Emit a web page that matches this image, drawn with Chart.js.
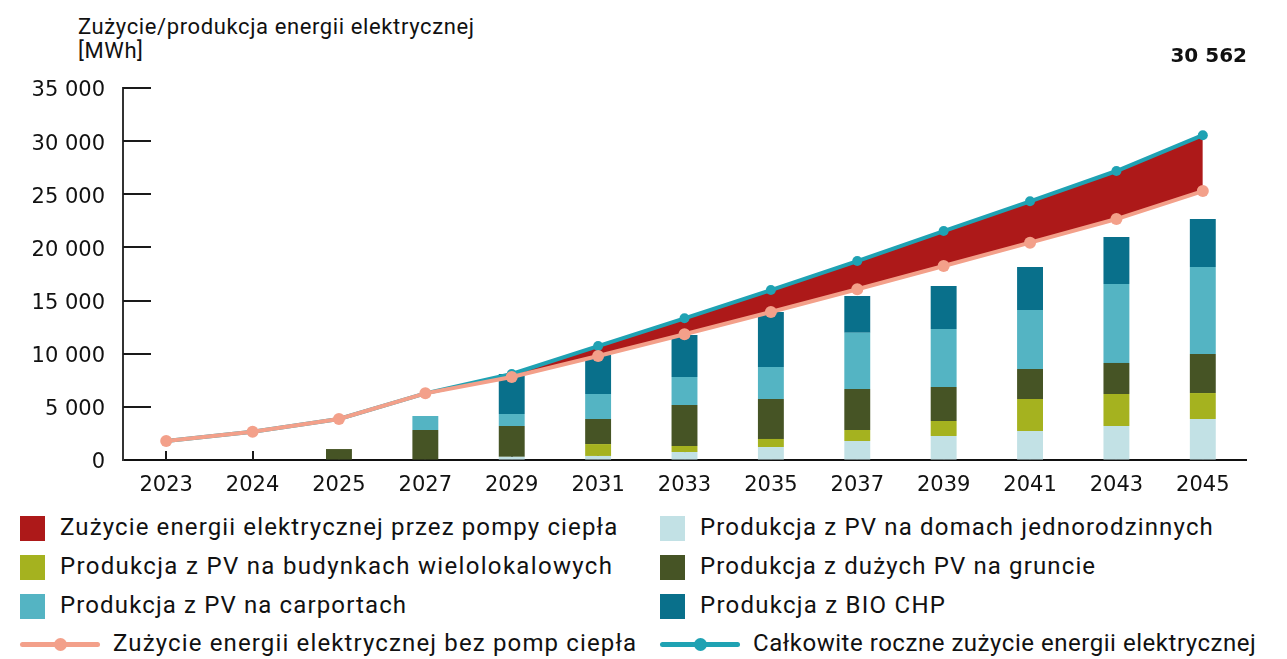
<!DOCTYPE html>
<html>
<head>
<meta charset="utf-8">
<script src="https://cdn.jsdelivr.net/npm/chart.js@4.4.1/dist/chart.umd.min.js"></script>
<style>
  html, body { margin: 0; padding: 0; background: #fff; }
  body { width: 1287px; height: 659px; position: relative; overflow: hidden; font-family: Roboto, sans-serif; color: #111; }
  #wrap { position: absolute; left: 0; top: 0; width: 1287px; height: 500px; }
  #title { position: absolute; left: 78px; top: 15px; font-size: 22px; line-height: 24px; color: #111; white-space: nowrap; }
  .leg { position: absolute; font-size: 24px; line-height: 28px; white-space: nowrap; color: #111; }
  .sq { position: absolute; width: 25px; height: 25px; }
  .ln { position: absolute; height: 5px; width: 80px; border-radius: 3px; }
  .dot { position: absolute; width: 13px; height: 13px; border-radius: 50%; }
</style>
</head>
<body>
<div id="title"><span id="t1">Zużycie/produkcja energii elektrycznej</span><br><span>[MWh]</span></div>
<div id="wrap"><canvas id="c" width="1287" height="500"></canvas></div>
<div id="legend"></div>
<script>
// ---- data (MWh) ----
const years = ['2023','2024','2025','2027','2029','2031','2033','2035','2037','2039','2041','2043','2045'];
const pvHouses  = [0, 0, 0, 0, 300, 380, 750, 1220, 1790, 2260, 2730, 3200, 3860];
const pvMulti   = [0, 0, 0, 0, 0, 1120, 570, 760, 1030, 1410, 3010, 3010, 2440];
const pvGround  = [0, 0, 1030, 2820, 2900, 2360, 3850, 3760, 3860, 3200, 2820, 2920, 3670];
const pvCarport = [0, 0, 0, 1320, 1130, 2350, 2640, 3010, 5300, 5450, 5550, 7430, 8190];
const bioChp    = [0, 0, 0, 0, 3760, 3670, 3950, 5170, 3450, 4050, 4050, 4420, 4510];
const baseConsumption  = [1790, 2660, 3860, 6270, 7810, 9780, 11830, 13920, 16060, 18250, 20450, 22670, 25300];
const totalConsumption = [1790, 2660, 3860, 6270, 8090, 10720, 13330, 15990, 18720, 21540, 24340, 27190, 30562];
const yTicks = [0, 5000, 10000, 15000, 20000, 25000, 30000, 35000];

const labels = {
  hp: 'Zużycie energii elektrycznej przez pompy ciepła',
  houses: 'Produkcja z PV na domach jednorodzinnych',
  multi: 'Produkcja z PV na budynkach wielolokalowych',
  ground: 'Produkcja z dużych PV na gruncie',
  carport: 'Produkcja z PV na carportach',
  bio: 'Produkcja z BIO CHP',
  base: 'Zużycie energii elektrycznej bez pomp ciepła',
  total: 'Całkowite roczne zużycie energii elektrycznej'
};
const colors = {
  hp: '#ad1919', houses: '#c2e1e5', multi: '#a5b21f', ground: '#465425',
  carport: '#54b4c3', bio: '#09708b', base: '#f3a08a', total: '#1fa2b3'
};

const fmt = v => String(Math.round(v)).replace(/\B(?=(\d{3})+(?!\d))/g, ' ');
const tickFont = '"DejaVu Sans", Verdana, sans-serif';

const axisDecor = {
  id: 'axisDecor',
  beforeDatasetsDraw(chart) {
    const ctx = chart.ctx, ca = chart.chartArea;
    const ys = chart.scales.y, xs = chart.scales.x;
    ctx.save();
    ctx.strokeStyle = '#1a1a1a';
    ctx.lineWidth = 2;
    yTicks.forEach(v => {
      if (v === 0) return;
      const y = Math.round(ys.getPixelForValue(v));
      ctx.beginPath(); ctx.moveTo(ca.left, y); ctx.lineTo(ca.left + 28, y); ctx.stroke();
    });
    years.forEach((_, i) => {
      const x = Math.round(xs.getPixelForValue(i));
      ctx.beginPath(); ctx.moveTo(x, ca.bottom); ctx.lineTo(x, ca.bottom - 9); ctx.stroke();
    });
    ctx.restore();
  },
  afterDatasetsDraw(chart) {
    const ctx = chart.ctx, ca = chart.chartArea;
    ctx.save();
    ctx.font = 'bold 20px ' + tickFont;
    ctx.fillStyle = '#111';
    ctx.textAlign = 'right';
    ctx.textBaseline = 'middle';
    ctx.fillText(fmt(totalConsumption[totalConsumption.length - 1]), ca.right + 1, ca.top - 31);
    ctx.restore();
  }
};

const barDs = (key, data) => ({
  type: 'bar', label: labels[key], data, backgroundColor: colors[key],
  stack: 'prod', order: 3, barPercentage: 0.6, categoryPercentage: 0.5, borderWidth: 0
});

new Chart(document.getElementById('c'), {
  data: {
    labels: years,
    datasets: [
      { type: 'line', label: labels.base, data: baseConsumption, stack: 'base', order: 0,
        borderColor: colors.base, borderWidth: 4, backgroundColor: colors.base,
        pointRadius: 6, pointBackgroundColor: colors.base, pointBorderWidth: 0, fill: false, tension: 0 },
      { type: 'line', label: labels.total, data: totalConsumption, stack: 'total', order: 1,
        borderColor: colors.total, borderWidth: 4, backgroundColor: colors.total,
        pointRadius: 5, pointBackgroundColor: colors.total, pointBorderWidth: 0, fill: false, tension: 0 },
      { type: 'line', label: labels.hp, data: totalConsumption, stack: 'hp', order: 2,
        borderWidth: 0, pointRadius: 0, backgroundColor: colors.hp, fill: { target: 0 }, tension: 0 },
      barDs('houses', pvHouses),
      barDs('multi', pvMulti),
      barDs('ground', pvGround),
      barDs('carport', pvCarport),
      barDs('bio', bioChp)
    ]
  },
  options: {
    responsive: false,
    devicePixelRatio: 1,
    animation: false,
    layout: { padding: { left: 0, right: 41, top: 88, bottom: 0 } },
    plugins: { legend: { display: false }, tooltip: { enabled: false } },
    scales: {
      x: {
        stacked: true,
        offset: true,
        grid: { display: true, drawOnChartArea: false, drawTicks: false },
        border: { display: true, color: '#111', width: 2 },
        ticks: { padding: 13, color: '#111', font: { family: tickFont, size: 21 }, maxRotation: 0 },
        afterFit(s) { s.height = 40; }
      },
      y: {
        stacked: true,
        min: 0, max: 35000,
        grid: { display: true, drawOnChartArea: false, drawTicks: false },
        border: { display: true, color: '#333', width: 2 },
        afterBuildTicks(s) { s.ticks = yTicks.map(v => ({ value: v })); },
        ticks: { padding: 18, labelOffset: 3, color: '#111', font: { family: tickFont, size: 21 },
                 callback: v => fmt(v) },
        afterFit(s) { s.width = 123; }
      }
    }
  },
  plugins: [axisDecor]
});

// ---- HTML legend ----
const legendItems = [
  { key: 'hp', kind: 'sq', col: 0, row: 0, w: 557 },
  { key: 'houses', kind: 'sq', col: 1, row: 0, w: 513 },
  { key: 'multi', kind: 'sq', col: 0, row: 1, w: 552 },
  { key: 'ground', kind: 'sq', col: 1, row: 1, w: 395 },
  { key: 'carport', kind: 'sq', col: 0, row: 2, w: 346 },
  { key: 'bio', kind: 'sq', col: 1, row: 2, w: 245 },
  { key: 'base', kind: 'ln', col: 0, row: 3, w: 523 },
  { key: 'total', kind: 'ln', col: 1, row: 3, w: 503 }
];
const rowY = [528, 567, 606, 644];
const colX = [20, 660];
const lg = document.getElementById('legend');
legendItems.forEach(it => {
  const cy = rowY[it.row], x0 = colX[it.col];
  let textX;
  if (it.kind === 'sq') {
    const s = document.createElement('div');
    s.className = 'sq'; s.style.background = colors[it.key];
    s.style.left = x0 + 'px'; s.style.top = (cy - 12) + 'px';
    lg.appendChild(s);
    textX = x0 + 40;
  } else {
    const l = document.createElement('div');
    l.className = 'ln'; l.style.background = colors[it.key];
    l.style.left = x0 + 'px'; l.style.top = (cy - 2) + 'px';
    lg.appendChild(l);
    const d = document.createElement('div');
    d.className = 'dot'; d.style.background = colors[it.key];
    d.style.left = (x0 + 34) + 'px'; d.style.top = (cy - 6) + 'px';
    lg.appendChild(d);
    textX = x0 + 93;
  }
  const t = document.createElement('div');
  t.className = 'leg'; t.textContent = labels[it.key];
  t.style.left = textX + 'px'; t.style.top = (cy - 15) + 'px';
  lg.appendChild(t);
  const n = labels[it.key].length;
  const ls = (it.w - t.getBoundingClientRect().width) / (n - 1);
  t.style.letterSpacing = ls.toFixed(2) + 'px';
});
const t1 = document.getElementById('t1');
const ls2 = (396 - t1.getBoundingClientRect().width) / (t1.textContent.length - 1);
document.getElementById('title').style.letterSpacing = ls2.toFixed(2) + 'px';
</script>
</body>
</html>
